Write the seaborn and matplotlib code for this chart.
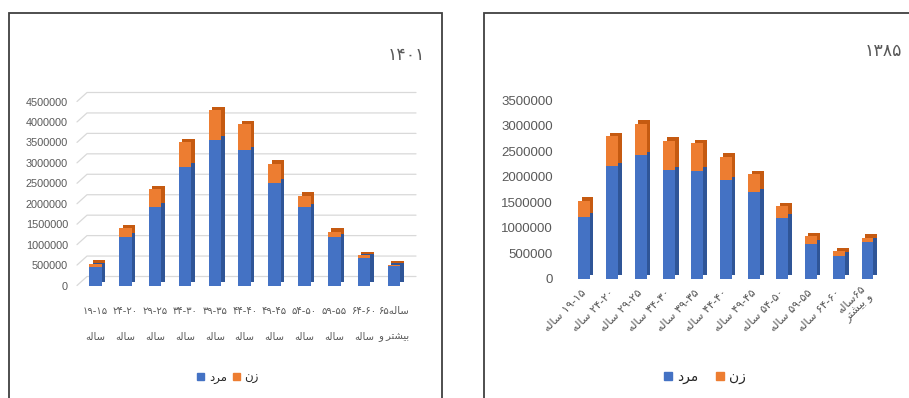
import matplotlib
matplotlib.use("Agg")
import matplotlib.pyplot as plt
import matplotlib.transforms as mtransforms
from matplotlib import font_manager
from matplotlib.patches import Rectangle, Patch
import pandas as pd
import seaborn as sns

# Persian words written in visual (shaped) order, since matplotlib does no RTL shaping
SALEH = "\ufeea\ufedf\ufe8e\ufeb3"            # ساله
MARD = "\ufea9\ufeae\ufee3"                   # مرد
ZAN = "\ufee5\ufeaf"                          # زن
VA_BISHTAR = "\ufeed \ufeae\ufe98\ufeb8\ufef4\ufe91"   # و بیشتر
BISHTAR_VA = "\ufeae\ufe98\ufeb8\ufef4\ufe91 \ufeed"

age_ranges = ["۱۹-۱۵", "۲۴-۲۰", "۲۹-۲۵", "۳۴-۳۰", "۳۹-۳۵", "۴۴-۴۰",
              "۴۹-۴۵", "۵۴-۵۰", "۵۹-۵۵", "۶۴-۶۰", "۶۵"]

men_1401 = [460000, 1190000, 1930000, 2910000, 3560000, 3310000,
            2510000, 1910000, 1180000, 680000, 470000]
women_1401 = [70000, 210000, 430000, 590000, 730000, 630000,
              470000, 290000, 140000, 60000, 40000]

men_1385 = [1210000, 2200000, 2420000, 2130000, 2120000, 1930000,
            1690000, 1190000, 680000, 450000, 720000]
women_1385 = [320000, 590000, 620000, 580000, 540000, 460000,
              360000, 230000, 150000, 90000, 80000]

labels_1401 = [f"{a}\n{SALEH}" for a in age_ranges[:-1]] + [f"۶۵{SALEH}\n{VA_BISHTAR}"]
labels_1385 = [f"{SALEH} {a}" for a in age_ranges[:-1]] + [f"{SALEH}۶۵\n{BISHTAR_VA}"]

BLUE, BLUE_SIDE = "#4472C4", "#2F5597"
ORANGE, ORANGE_SIDE = "#ED7D31", "#C55A11"
GREY_TEXT = "#595959"
GRID = "#D9D9D9"
W, H, DPI = 909, 398, 100

installed = {f.name for f in font_manager.fontManager.ttflist}
if "Liberation Sans Narrow" in installed:
    NARROW, NARROW_SIZE = "Liberation Sans Narrow", 9.5
else:
    NARROW, NARROW_SIZE = "Liberation Sans", 7.8


def px_rect(left, top, right, bottom):
    return [left / W, 1 - bottom / H, (right - left) / W, (bottom - top) / H]


def draw_bars(fig, ax, men, women):
    df = pd.DataFrame({"group": age_ranges, "men": men, "women": women})
    df["total"] = df["men"] + df["women"]
    shift = mtransforms.ScaledTranslation(3.5 / DPI, 3.5 / DPI, fig.dpi_scale_trans)
    # darker copies slightly shifted give the 3d side / top faces
    for col, color in [("total", ORANGE_SIDE), ("men", BLUE_SIDE)]:
        sns.barplot(data=df, x="group", y=col, color=color, saturation=1,
                    width=0.42, errorbar=None, linewidth=0, edgecolor="none", ax=ax)
        for p in ax.containers[-1]:
            p.set_transform(ax.transData + shift)
    for col, color in [("total", ORANGE), ("men", BLUE)]:
        sns.barplot(data=df, x="group", y=col, color=color, saturation=1,
                    width=0.42, errorbar=None, linewidth=0, edgecolor="none", ax=ax)
    ax.set_xlabel("")
    ax.set_ylabel("")
    sns.despine(ax=ax, left=True, bottom=True)
    ax.tick_params(length=0)


sns.set_style("white")
fig = plt.figure(figsize=(W / DPI, H / DPI), dpi=DPI)

# ---- left chart (1401)
ax1 = fig.add_axes(px_rect(77, 101.5, 416, 285.5))
draw_bars(fig, ax1, men_1401, women_1401)
ax1.set_xlim(-0.62, 10.74)
ax1.set_ylim(0, 4500000)
yt1 = list(range(0, 4500001, 500000))
ax1.set_yticks(yt1)
ax1.set_yticklabels([str(v) for v in yt1], family=NARROW,
                    fontsize=NARROW_SIZE, color=GREY_TEXT)
ax1.tick_params(axis="y", pad=6.5)
per_px = 4500000 / 184
trans = mtransforms.blended_transform_factory(ax1.transAxes, ax1.transData)
for t in yt1:
    ax1.plot([0, 10 / 339, 1], [t, t + 9 * per_px, t + 9 * per_px], transform=trans,
             color=GRID, lw=0.9, zorder=0, clip_on=False)
ax1.set_xticks(range(len(labels_1401)))
ax1.set_xticklabels(labels_1401, family="DejaVu Sans", fontsize=7.2,
                    color=GREY_TEXT, linespacing=2.9)
ax1.tick_params(axis="x", pad=15)

# ---- right chart (1385)
ax2 = fig.add_axes(px_rect(567, 100.3, 884.5, 278.5))
draw_bars(fig, ax2, men_1385, women_1385)
ax2.set_xlim(-0.6, 10.6)
ax2.set_ylim(0, 3500000)
yt2 = list(range(0, 3500001, 500000))
ax2.set_yticks(yt2)
ax2.set_yticklabels([str(v) for v in yt2], family="Liberation Sans",
                    fontsize=9.5, color=GREY_TEXT)
ax2.tick_params(axis="y", pad=10)
ax2.set_xticks(range(len(labels_1385)))
ax2.set_xticklabels(labels_1385, family="DejaVu Sans", fontsize=8.2,
                    color=GREY_TEXT, rotation=45, ha="right", va="center",
                    rotation_mode="anchor", linespacing=1.1)
ax2.tick_params(axis="x", pad=9)

# titles
fig.text(425 / W, 1 - 55 / H, "۱۴۰۱", ha="right", va="center", fontsize=12.5,
         color=GREY_TEXT, family="DejaVu Sans")
fig.text(902 / W, 1 - 51 / H, "۱۳۸۵", ha="right", va="center", fontsize=12.5,
         color=GREY_TEXT, family="DejaVu Sans")

# legends
handles = [Patch(color=BLUE, label=MARD), Patch(color=ORANGE, label=ZAN)]
fig.legend(handles=handles, loc="center", bbox_to_anchor=(228 / W, 1 - 377 / H),
           ncol=2, frameon=False, prop={"family": "DejaVu Sans", "size": 8.5},
           handlelength=0.6, handleheight=0.6, handletextpad=0.4, columnspacing=0.5)
fig.legend(handles=handles, loc="center", bbox_to_anchor=(705 / W, 1 - 377 / H),
           ncol=2, frameon=False, prop={"family": "DejaVu Sans", "size": 10},
           handlelength=0.6, handleheight=0.6, handletextpad=0.4, columnspacing=1.2)

# chart frames
fig.add_artist(Rectangle((9 / W, -0.05), 433 / W, 1 - 13 / H + 0.05,
                         transform=fig.transFigure, fill=False, ec="#404040", lw=1.3))
fig.add_artist(Rectangle((484 / W, -0.05), 0.6, 1 - 13 / H + 0.05,
                         transform=fig.transFigure, fill=False, ec="#404040", lw=1.3))

fig.savefig("out.png", dpi=DPI)
